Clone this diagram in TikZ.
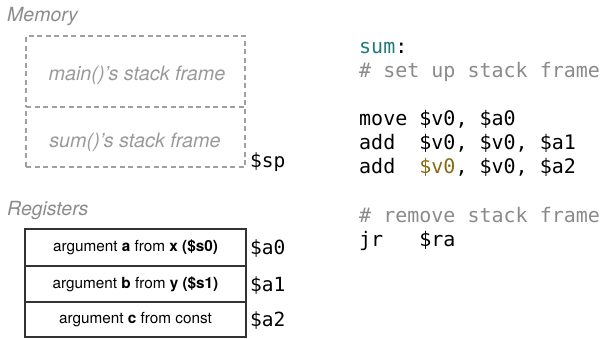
\documentclass[tikz,border=0pt]{standalone}
\usepackage{fontspec}
\setmainfont{TeX Gyre Heros}
\newfontfamily\codefont{DejaVu Sans Mono}
\definecolor{lblgray}{HTML}{8C8C8C}
\definecolor{framegray}{HTML}{9A9A9A}
\definecolor{dashgray}{HTML}{A0A0A0}
\definecolor{cmtgray}{HTML}{8A8A8A}
\definecolor{teal1}{HTML}{1F7A7A}
\definecolor{gold1}{HTML}{8A6A12}
\definecolor{boxline}{HTML}{333333}
\tikzset{
  seclabel/.style={anchor=base west, inner sep=0pt, text=lblgray, font=\fontsize{19.5}{22}\selectfont\itshape},
  frametext/.style={anchor=base, inner sep=0pt, text=framegray, font=\fontsize{19.8}{22}\selectfont\itshape},
  dashbox/.style={draw=dashgray, line width=1.1pt, dash pattern=on 5pt off 3.5pt, minimum width=219pt, inner sep=0pt},
  regbox/.style={draw=boxline, line width=1.1pt, minimum width=221pt, inner sep=0pt, font=\fontsize{15.3}{18}\selectfont},
  reglabel/.style={anchor=base west, inner sep=0pt, font=\fontsize{19.5}{22}\codefont},
  code/.style={anchor=base west, inner sep=0pt, font=\fontsize{20}{24}\codefont}
}
\begin{document}
\begin{tikzpicture}[x=1pt,y=-1pt]
\useasboundingbox (0,0) rectangle (607,338);
% Memory
\node[seclabel] (memlbl) at (7,21) {Memory};
\node[dashbox, minimum height=71pt] (mainbox) at (135.5,71.5) {};
\node[dashbox, minimum height=60pt] (sumbox) at (135.5,137) {};
\node[frametext] (maintxt) at (137,80) {main()’s stack frame};
\node[frametext] (sumtxt) at (135,147) {sum()’s stack frame};
\node[reglabel] (sp) at (250,167) {\$sp};
% Registers
\node[seclabel] (reglbl) at (7,215) {Registers};
\node[regbox, minimum height=37pt] (r1) at (135.5,247.5) {argument \textbf{a} from \textbf{x (\$s0)}};
\node[regbox, minimum height=36pt] (r2) at (135.5,284) {argument \textbf{b} from \textbf{y (\$s1)}};
\node[regbox, minimum height=35pt] (r3) at (135.5,319.5) {argument \textbf{c} from const};
\node[reglabel] (a0) at (250,254.5) {\$a0};
\node[reglabel] (a1) at (250,291) {\$a1};
\node[reglabel] (a2) at (250,326.5) {\$a2};
% Code
\node[code, text=teal1] (c1) at (359,53) {sum\textcolor{black}{:}};
\node[code, text=cmtgray] (c2) at (359,77.2) {\# set up stack frame};
\node[code] (c3) at (359,125.5) {move \$v0, \$a0};
\node[code] (c4) at (359,149.7) {add~~\$v0, \$v0, \$a1};
\node[code] (c5) at (359,173.9) {add~~\textcolor{gold1}{\$v0}, \$v0, \$a2};
\node[code, text=cmtgray] (c6) at (359,222) {\# remove stack frame};
\node[code] (c7) at (359,246.2) {jr~~~\$ra};
\end{tikzpicture}
\end{document}
